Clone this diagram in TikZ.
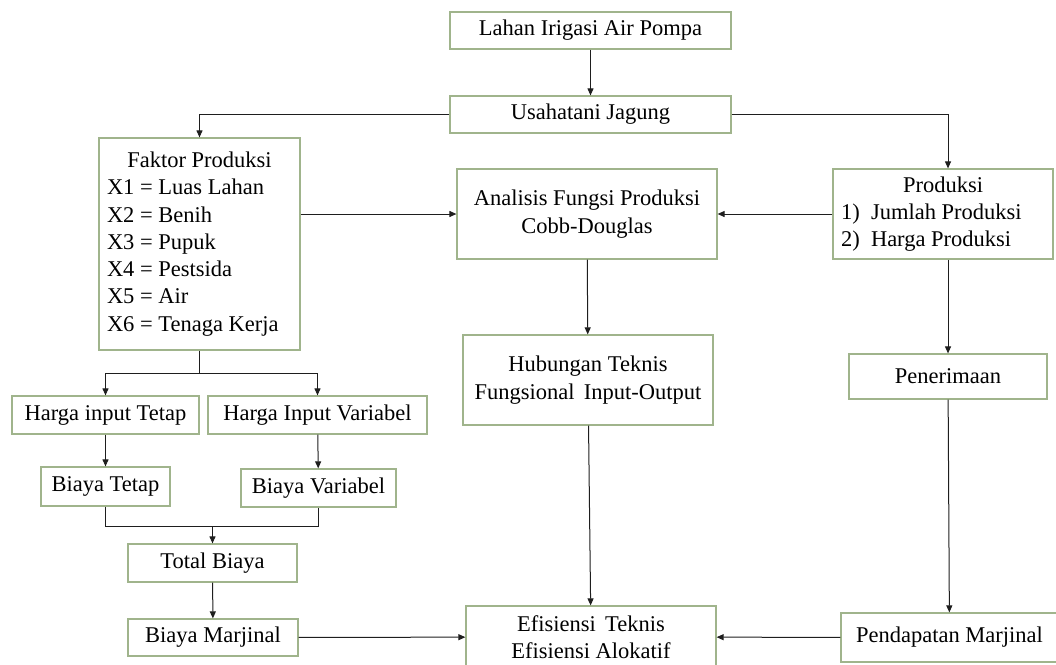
\documentclass[tikz,border=0pt]{standalone}
\usepackage{fontspec}
\setmainfont{Liberation Serif}
\usetikzlibrary{arrows.meta}
\definecolor{boxline}{RGB}{160,180,140}
\definecolor{flowline}{RGB}{30,30,30}
\begin{document}
\begin{tikzpicture}[x=1pt, y=-1pt, >={Triangle[length=7pt,width=6pt]},
    font=\fontsize{22.5}{27.3}\selectfont]
    \tikzset{
      box/.style 2 args={draw=boxline, line width=1.2pt, inner sep=0pt,
        minimum width=#1, minimum height=#2, align=center},
      wire/.style={draw=flowline, line width=1pt},
      flow/.style={wire, ->},
    }
    \useasboundingbox (0,0) rectangle (1056,664);
    \clip (0,0) rectangle (1056,664);

    \node[box={281pt}{37pt}] (lahan) at (590.5,30.5) {Lahan Irigasi Air Pompa};
    \node[box={281pt}{37pt}] (usaha) at (590.5,114.5) {Usahatani Jagung};
    \node[box={201pt}{212pt}, align=left] (faktor) at (199.5,244) {%
      \makebox[185pt]{Faktor Produksi}\\
      X1 = Luas Lahan\\ X2 = Benih\\ X3 = Pupuk\\
      X4 = Pestsida\\ X5 = Air\\ X6 = Tenaga Kerja};
    \node[box={260pt}{90pt}] (analisis) at (587,214)
      {Analisis Fungsi Produksi\\Cobb-Douglas};
    \node[box={220pt}{90pt}, align=left] (produksi) at (943,214) {%
      \makebox[204pt]{Produksi}\\
      \makebox[30pt][l]{1)}Jumlah Produksi\\
      \makebox[30pt][l]{2)}Harga Produksi};
    \node[box={250pt}{90pt}] (hubungan) at (588,380)
      {Hubungan Teknis\\Fungsional\, Input-Output};
    \node[box={198pt}{45pt}] (penerimaan) at (948,376.5) {Penerimaan};
    \node[box={250pt}{62pt}] (efisiensi) at (591,637)
      {Efisiensi\, Teknis\\Efisiensi Alokatif};
    \node[box={217pt}{49pt}] (pendapatan) at (949.5,637.5) {Pendapatan Marjinal};
    \node[box={187pt}{38pt}] (hargatetap) at (105.5,415) {Harga input Tetap};
    \node[box={219pt}{38pt}] (hargavar) at (317.5,415) {Harga Input Variabel};
    \node[box={129pt}{39pt}] (biayatetap) at (105.5,486.5) {Biaya Tetap};
    \node[box={155pt}{38pt}] (biayavar) at (318.5,488) {Biaya Variabel};
    \node[box={169pt}{38pt}] (total) at (212.5,563) {Total Biaya};
    \node[box={170pt}{37pt}] (marjinal) at (213,637.5) {Biaya Marjinal};

    \draw[flow] (lahan) -- (usaha);
    \draw[flow] (usaha.west) -| (faktor.north);
    \draw[flow] (usaha.east) -| (produksi.north -| penerimaan);
    \draw[flow] (faktor.east |- analisis) -- (analisis.west);
    \draw[flow] (produksi.west) -- (analisis.east);
    \draw[flow] (analisis) -- (hubungan);
    \draw[flow] (hubungan) -- (efisiensi);
    \draw[flow] (produksi.south -| penerimaan) -- (penerimaan.north);
    \draw[flow] (penerimaan) -- (pendapatan);
    \draw[flow] (pendapatan) -- (efisiensi);
    \draw[flow] (marjinal) -- (efisiensi);

    \draw[wire] (faktor.south) -- ++(0,23) coordinate (split);
    \draw[flow] (split) -| (hargatetap.north);
    \draw[flow] (split) -| (hargavar.north);
    \draw[flow] (hargatetap) -- (biayatetap);
    \draw[flow] (hargavar) -- (biayavar);
    \draw[wire] (biayatetap.south) -- ++(0,20) coordinate (join) -| (biayavar.south);
    \draw[flow] (join -| total) -- (total.north);
    \draw[flow] (total) -- (marjinal);
  \end{tikzpicture}
\end{document}
